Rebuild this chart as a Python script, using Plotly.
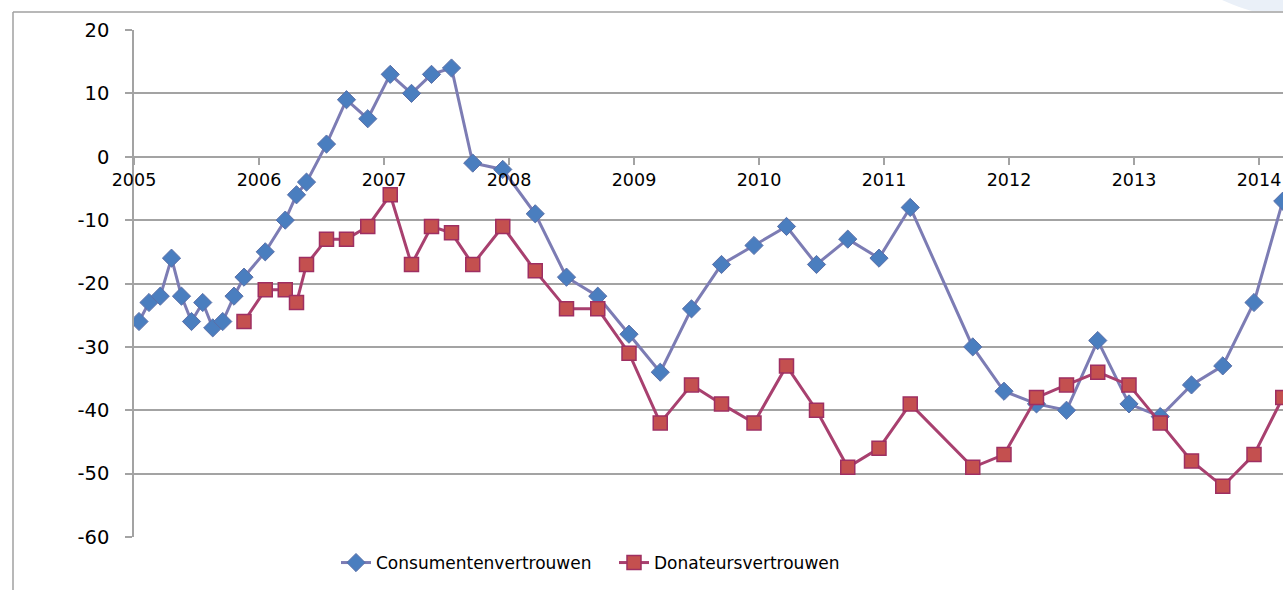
import plotly.graph_objects as go

# Decimal-year positions of the observations
x_consument = [2005.04, 2005.12, 2005.21, 2005.30, 2005.38, 2005.46, 2005.55, 2005.63, 2005.71, 2005.80,
               2005.88, 2006.05, 2006.21, 2006.30, 2006.38, 2006.54, 2006.70, 2006.87, 2007.05, 2007.22,
               2007.38, 2007.54, 2007.71, 2007.95, 2008.21, 2008.46, 2008.71, 2008.96, 2009.21, 2009.46,
               2009.70, 2009.96, 2010.22, 2010.46, 2010.71, 2010.96, 2011.21, 2011.71, 2011.96, 2012.22,
               2012.46, 2012.71, 2012.96, 2013.21, 2013.46, 2013.71, 2013.96, 2014.19]
consumentenvertrouwen = [-26, -23, -22, -16, -22, -26, -23, -27, -26, -22,
                         -19, -15, -10, -6, -4, 2, 9, 6, 13, 10,
                         13, 14, -1, -2, -9, -19, -22, -28, -34, -24,
                         -17, -14, -11, -17, -13, -16, -8, -30, -37, -39,
                         -40, -29, -39, -41, -36, -33, -23, -7]

x_donateur = x_consument[10:]
donateursvertrouwen = [-26, -21, -21, -23, -17, -13, -13, -11, -6, -17,
                       -11, -12, -17, -11, -18, -24, -24, -31, -42, -36,
                       -39, -42, -33, -40, -49, -46, -39, -49, -47, -38,
                       -36, -34, -36, -42, -48, -52, -47, -38]

year_ticks = list(range(2005, 2015))
year_labels = [str(y) for y in year_ticks]
y_ticks = [-60, -50, -40, -30, -20, -10, 0, 10, 20]
y_labels = ["-60", "-50", "-40", "-30", "-20", "-10", "0", "10", "20"]

FONT = "'DejaVu Sans', 'Liberation Sans', sans-serif"
GRID = "#A3A3A3"

fig = go.Figure()
fig.add_trace(go.Scatter(
    x=x_consument, y=consumentenvertrouwen, name="Consumentenvertrouwen",
    mode="lines+markers",
    line=dict(color="#7C7CB4", width=3),
    marker=dict(symbol="diamond", size=14, color="#4A7EBF", line=dict(color="#5B6FA8", width=1)),
))
fig.add_trace(go.Scatter(
    x=x_donateur, y=donateursvertrouwen, name="Donateursvertrouwen",
    mode="lines+markers",
    line=dict(color="#A8406F", width=3),
    marker=dict(symbol="square", size=14, color="#C4504F", line=dict(color="#9E2F62", width=1.5)),
))

L, R, T, B = 134, 0, 30, 53
W, H = 1283, 590
pw = W - L - R
ph = H - T - B
ymin, ymax = -60, 20
zero_pos = (0 - ymin) / (ymax - ymin)

def px_to_paper_x(px):
    return (px - L) / pw

def px_to_paper_y(py):
    return (H - B - py) / ph

shapes = [
    # outer chart-area border (left and top)
    dict(type="line", xref="paper", yref="paper",
         x0=px_to_paper_x(13), x1=px_to_paper_x(13), y0=px_to_paper_y(12), y1=px_to_paper_y(600),
         line=dict(color="#A0A0A0", width=1.5)),
    dict(type="line", xref="paper", yref="paper",
         x0=px_to_paper_x(13), x1=px_to_paper_x(1300), y0=px_to_paper_y(12), y1=px_to_paper_y(12),
         line=dict(color="#A0A0A0", width=1.5)),
    # light decoration in top-right corner
    dict(type="path", xref="paper", yref="paper",
         path=f"M {px_to_paper_x(1222)} {px_to_paper_y(0)} Q {px_to_paper_x(1240)} {px_to_paper_y(8)} {px_to_paper_x(1252)} {px_to_paper_y(11)} L {px_to_paper_x(1290)} {px_to_paper_y(11)} L {px_to_paper_x(1290)} {px_to_paper_y(0)} Z",
         fillcolor="#EAF0F8", line=dict(width=0), layer="below"),
]

fig.update_layout(
    width=W, height=H,
    margin=dict(l=L, r=R, t=T, b=B, pad=0),
    paper_bgcolor="white", plot_bgcolor="white",
    font=dict(family=FONT, color="black"),
    showlegend=True,
    legend=dict(orientation="h", xref="paper", yref="paper",
                x=px_to_paper_x(336), xanchor="left",
                y=px_to_paper_y(563), yanchor="middle",
                font=dict(size=17, family=FONT), itemwidth=30,
                entrywidth=233, entrywidthmode="pixels",
                bgcolor="rgba(0,0,0,0)", tracegroupgap=0),
    shapes=shapes,
    xaxis=dict(
        range=[2005, 2005 + pw / 125.0],
        anchor="free", position=zero_pos,
        tickmode="array", tickvals=year_ticks, ticktext=year_labels,
        ticks="outside", ticklen=7, tickcolor=GRID, tickwidth=1.5,
        showline=False, showgrid=False, zeroline=False,
        tickfont=dict(size=17.5, family=FONT),
    ),
    yaxis=dict(
        range=[ymin, ymax],
        tickmode="array", tickvals=y_ticks, ticktext=y_labels,
        ticks="outside", ticklen=7, tickcolor=GRID, tickwidth=1.5,
        showline=True, linecolor=GRID, linewidth=1.5,
        showgrid=True, gridcolor=GRID, gridwidth=1.5,
        zeroline=True, zerolinecolor=GRID, zerolinewidth=1.5,
        tickfont=dict(size=19.5, family=FONT),
        ticklabelstandoff=12,
    ),
)

fig.write_html("out.html",
               config={"displayModeBar": False},
               post_script="document.body.style.margin='0px'; document.body.style.overflow='hidden';")
